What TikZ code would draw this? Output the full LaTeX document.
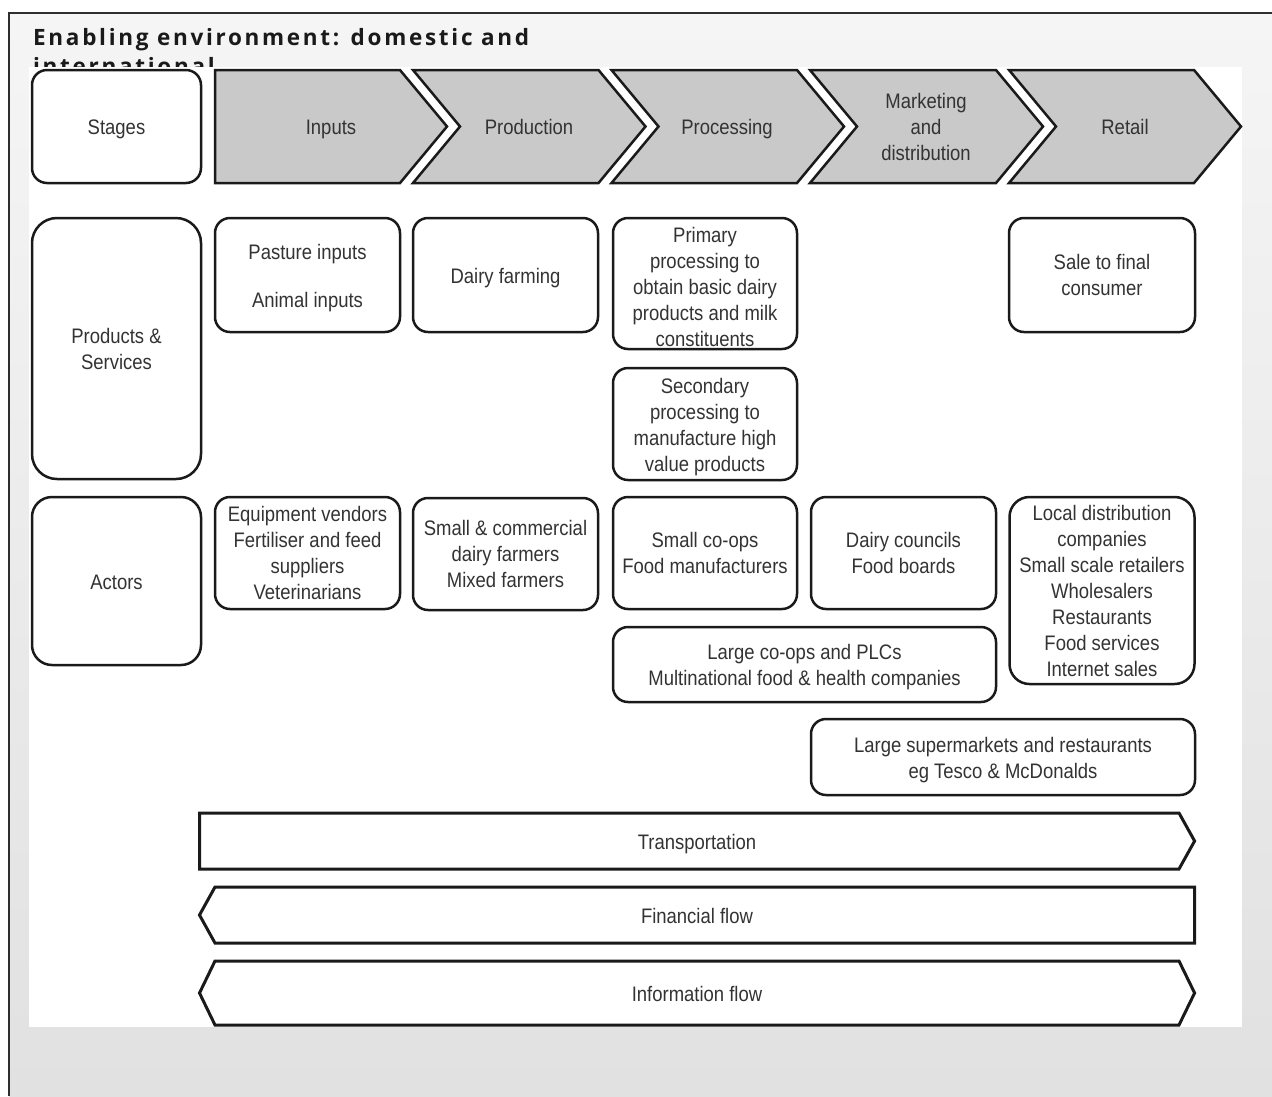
\documentclass[tikz,border=0pt]{standalone}
\usepackage{fontspec}
\newfontfamily\lab[FakeStretch=0.88]{Liberation Sans}
\newfontfamily\ttl[LetterSpace=12]{Open Sans}
\definecolor{bgtop}{HTML}{F5F5F5}
\definecolor{bgbot}{HTML}{E1E1E1}
\definecolor{framecol}{HTML}{2E2E2E}
\definecolor{titlecol}{HTML}{1A1A1A}
\definecolor{lineblack}{HTML}{1A1A1A}
\definecolor{chevfill}{HTML}{C9C9C9}
\definecolor{txt}{HTML}{333333}
\tikzset{
  lbl/.style={inner sep=0pt, align=center, text=txt, font=\lab\fontsize{21}{26}\selectfont},
  one/.style={lbl, execute at begin node={\rule{0pt}{21pt}}, execute at end node={\rule[-5pt]{0pt}{5pt}}},
  frame/.style={draw=lineblack, line width=2.5pt, fill=white, rounded corners=15pt, inner sep=0pt},
  box/.style={frame, lbl},
  onebox/.style={frame, one},
  lowtext/.style={frame, label={[lbl, yshift=-3pt]center:{#1}}},
  chev/.style={draw=lineblack, fill=chevfill, line width=2.5pt, line join=miter},
  flowbar/.style={draw=lineblack, fill=white, line width=3pt, line join=miter},
  titletext/.style={anchor=base west, inner sep=0pt, text=titlecol, font=\ttl\bfseries\fontsize{22.5}{29}\selectfont},
}
\begin{document}
\begin{tikzpicture}[x=1pt,y=-1pt]
\useasboundingbox (0,0) rectangle (1272,1096);
\fill[white] (0,0) rectangle (1272,1096);
\shade[top color=bgtop, bottom color=bgbot] (9,13) rectangle (1272,1096);
\draw[framecol, line width=2pt] (9,1096) -- (9,13) -- (1272,13);
% title
\node[titletext] (title1) at (33,45) {Enabling environment: domestic and};
\node[titletext] (title2) at (33,74) {international};
% white picture area
\fill[white] (29,67) rectangle (1242,1027);
% stage chevrons
\draw[chev] (215,70) -- (400,70) -- (447,126.5) -- (400,183) -- (215,183) -- cycle;
\draw[chev] (413,70) -- (598.5,70) -- (645.5,126.5) -- (598.5,183) -- (413,183) -- (460,126.5) -- cycle;
\draw[chev] (611.5,70) -- (797,70) -- (844,126.5) -- (797,183) -- (611.5,183) -- (658.5,126.5) -- cycle;
\draw[chev] (810,70) -- (996,70) -- (1043,126.5) -- (996,183) -- (810,183) -- (857,126.5) -- cycle;
\draw[chev] (1009,70) -- (1194,70) -- (1241,126.5) -- (1194,183) -- (1009,183) -- (1056,126.5) -- cycle;
\node[one] (inputs) at (331,126.5) {Inputs};
\node[one] (production) at (529,126.5) {Production};
\node[one] (processing) at (727,126.5) {Processing};
\node[lbl] (marketing) at (926,126.5) {Marketing\\and\\distribution};
\node[one] (retail) at (1125,126.5) {Retail};
% row headers
\node[onebox, minimum width=169pt, minimum height=113pt] (stages) at (116.5,126.5) {Stages};
\node[box, rounded corners=25pt, minimum width=169pt, minimum height=261pt] (prodserv) at (116.5,348.5) {Products \&\\Services};
\node[onebox, rounded corners=20pt, minimum width=169pt, minimum height=168pt] (actors) at (116.5,581) {Actors};
% products & services
\node[lowtext={Pasture inputs\\[22pt]Animal inputs}, minimum width=185pt, minimum height=114pt] (pasture) at (307.5,275) {};
\node[onebox, minimum width=185pt, minimum height=114pt] (dairy) at (505.5,275) {Dairy farming};
\node[lowtext={Primary\\processing to\\obtain basic dairy\\products and milk\\constituents}, minimum width=184pt, minimum height=131pt] (primary) at (705,283.5) {};
\node[lowtext={Secondary\\processing to\\manufacture high\\value products}, minimum width=184pt, minimum height=112pt] (secondary) at (705,424) {};
\node[box, minimum width=186pt, minimum height=114pt] (sale) at (1102,275) {Sale to final\\consumer};
% actors
\node[box, minimum width=185pt, minimum height=112pt] (equip) at (307.5,553) {Equipment vendors\\Fertiliser and feed\\suppliers\\Veterinarians};
\node[box, minimum width=185pt, minimum height=112pt] (farmers) at (505.5,554) {Small \& commercial\\dairy farmers\\Mixed farmers};
\node[box, minimum width=184pt, minimum height=112pt] (smallcoops) at (705,553) {Small co-ops\\Food manufacturers};
\node[box, minimum width=185pt, minimum height=112pt] (councils) at (903.5,553) {Dairy councils\\Food boards};
\node[box, rounded corners=20pt, minimum width=185pt, minimum height=187pt] (localdist) at (1102,590.5) {Local distribution\\companies\\Small scale retailers\\Wholesalers\\Restaurants\\Food services\\Internet sales};
\node[lowtext={Large co-ops and PLCs\\Multinational food \& health companies}, minimum width=383pt, minimum height=75pt] (largecoops) at (804.5,664.5) {};
\node[lowtext={Large supermarkets and restaurants\\eg Tesco \& McDonalds}, minimum width=384pt, minimum height=76pt] (supermarkets) at (1003,757) {};
% flows
\draw[flowbar] (199.5,813) -- (1179,813) -- (1194.6,841) -- (1179,869) -- (199.5,869) -- cycle;
\node[one] (transport) at (697,841) {Transportation};
\draw[flowbar] (215,887) -- (1194.6,887) -- (1194.6,943) -- (215,943) -- (199.5,915) -- cycle;
\node[one] (financial) at (697,915) {Financial flow};
\draw[flowbar] (215,961) -- (1179,961) -- (1194.6,993) -- (1179,1025) -- (215,1025) -- (199.5,993) -- cycle;
\node[one] (information) at (697,993) {Information flow};
\end{tikzpicture}
\end{document}
